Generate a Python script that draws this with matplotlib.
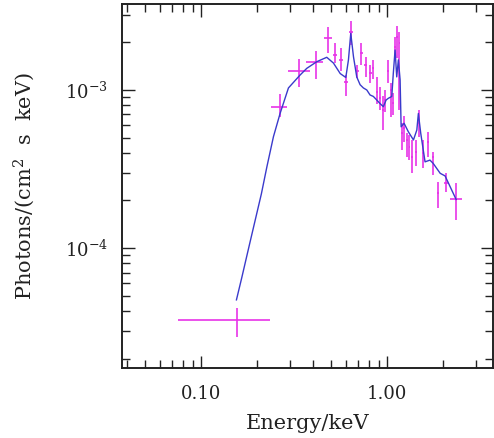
import numpy as np
import matplotlib
matplotlib.use("Agg")
import matplotlib.pyplot as plt
from matplotlib.ticker import FixedLocator, NullFormatter, FixedFormatter, LogLocator

plt.rcParams['mathtext.fontset'] = 'dejavuserif'

# Observed data points: energy (keV), flux, and error bounds
energy = [0.156, 0.266, 0.336, 0.414, 0.48, 0.525, 0.566, 0.60, 0.64, 0.692,
          0.727, 0.768, 0.81, 0.838, 0.88, 0.917, 0.948, 0.975, 1.016, 1.047,
          1.073, 1.104, 1.127, 1.165, 1.20, 1.234, 1.276, 1.318, 1.367, 1.43,
          1.486, 1.567, 1.667, 1.773, 1.873, 2.07, 2.35]
energy_lo = [0.075, 0.238, 0.294, 0.367, 0.46, 0.51, 0.55, 0.585, 0.625, 0.68,
             0.715, 0.755, 0.795, 0.826, 0.868, 0.905, 0.936, 0.963, 1.004, 1.035,
             1.061, 1.092, 1.115, 1.152, 1.187, 1.22, 1.262, 1.304, 1.352, 1.414,
             1.468, 1.548, 1.645, 1.75, 1.845, 2.02, 2.18]
energy_hi = [0.235, 0.29, 0.385, 0.453, 0.505, 0.54, 0.582, 0.615, 0.655, 0.705,
             0.74, 0.781, 0.825, 0.85, 0.892, 0.929, 0.96, 0.987, 1.028, 1.059,
             1.085, 1.116, 1.139, 1.178, 1.213, 1.248, 1.29, 1.332, 1.382, 1.446,
             1.504, 1.586, 1.69, 1.796, 1.9, 2.12, 2.52]
flux = [3.5e-5, 7.84e-4, 1.31e-3, 1.50e-3, 2.14e-3, 1.67e-3, 1.55e-3, 1.13e-3, 2.34e-3, 1.31e-3,
        1.71e-3, 1.44e-3, 1.28e-3, 1.37e-3, 9.75e-4, 8.9e-4, 7.47e-4, 8.64e-4, 1.31e-3, 1.0e-3,
        8.27e-4, 1.88e-3, 2.17e-3, 1.98e-3, 5.35e-4, 5.75e-4, 4.83e-4, 4.38e-4, 3.79e-4, 4.07e-4,
        6.16e-4, 4.0e-4, 4.7e-4, 3.79e-4, 2.24e-4, 2.59e-4, 2.03e-4]
flux_lo = [2.75e-5, 6.78e-4, 1.04e-3, 1.17e-3, 1.71e-3, 1.48e-3, 1.31e-3, 9.1e-4, 1.93e-3, 1.19e-3,
           1.44e-3, 1.21e-3, 1.10e-3, 1.18e-3, 8.2e-4, 7.47e-4, 5.58e-4, 7.3e-4, 1.10e-3, 6.78e-4,
           6.9e-4, 1.59e-3, 1.6e-3, 7.5e-4, 4.17e-4, 4.7e-4, 3.79e-4, 3.6e-4, 2.97e-4, 3.3e-4,
           5.06e-4, 3.2e-4, 3.79e-4, 2.9e-4, 1.78e-4, 2.27e-4, 1.5e-4]
flux_hi = [4.17e-5, 9.4e-4, 1.57e-3, 1.77e-3, 2.5e-3, 1.98e-3, 1.84e-3, 1.24e-3, 2.75e-3, 1.44e-3,
           1.99e-3, 1.62e-3, 1.44e-3, 1.55e-3, 1.21e-3, 1.05e-3, 9.1e-4, 1.0e-3, 1.55e-3, 1.1e-3,
           9.6e-4, 2.17e-3, 2.55e-3, 2.34e-3, 6.16e-4, 6.8e-4, 5.32e-4, 5.2e-4, 4.83e-4, 4.8e-4,
           7.47e-4, 4.8e-4, 5.45e-4, 4.07e-4, 2.63e-4, 2.97e-4, 2.59e-4]

# Model curve
model_e = [0.155, 0.1656, 0.175, 0.1834, 0.197, 0.211, 0.226, 0.245, 0.266, 0.295,
           0.34, 0.37, 0.419, 0.474, 0.515, 0.56, 0.60, 0.62, 0.638, 0.66,
           0.687, 0.716, 0.746, 0.778, 0.81, 0.844, 0.88, 0.917, 0.955, 0.988,
           1.016, 1.06, 1.08, 1.104, 1.127, 1.15, 1.175, 1.19, 1.234, 1.30,
           1.386, 1.445, 1.473, 1.517, 1.60, 1.70, 1.77, 1.93, 2.05, 2.35]
model_f = [4.7e-5, 6.5e-5, 8.6e-5, 1.09e-4, 1.56e-4, 2.2e-4, 3.27e-4, 5.06e-4, 7.1e-4, 1.03e-3,
           1.24e-3, 1.37e-3, 1.51e-3, 1.61e-3, 1.48e-3, 1.27e-3, 1.2e-3, 1.55e-3, 2.28e-3, 1.62e-3,
           1.21e-3, 1.08e-3, 1.03e-3, 1.0e-3, 9.3e-4, 9.1e-4, 8.64e-4, 8.2e-4, 7.84e-4, 8.64e-4,
           8.86e-4, 9.1e-4, 1.27e-3, 1.79e-3, 1.21e-3, 1.55e-3, 1.16e-3, 5.85e-4, 6.16e-4, 5.45e-4,
           4.83e-4, 5.58e-4, 7.1e-4, 5.32e-4, 3.51e-4, 3.6e-4, 3.43e-4, 2.97e-4, 2.86e-4, 2.03e-4]

x_major = [0.1, 1.0]
x_major_labels = ["0.10", "1.00"]
y_major = [1e-4, 1e-3]
y_major_labels = [r"$10^{-4}$", r"$10^{-3}$"]

W, H = 494, 438
fig = plt.figure(figsize=(W / 100, H / 100), dpi=100)
ax = fig.add_axes([122 / W, (H - 368) / H, (493 - 122) / W, (368 - 4) / H])

e = np.array(energy)
f = np.array(flux)
xerr = [e - np.array(energy_lo), np.array(energy_hi) - e]
yerr = [f - np.array(flux_lo), np.array(flux_hi) - f]
ax.errorbar(e, f, xerr=xerr, yerr=yerr, fmt='none', ecolor='#e833e8',
            elinewidth=1.2, capsize=0, zorder=2)
ax.plot(model_e, model_f, color='#3a3acc', lw=1.0, zorder=3)

ax.set_xscale('log')
ax.set_yscale('log')
ax.set_xlim(0.0376, 3.71)
ax.set_ylim(10 ** -4.759, 10 ** -2.456)

ax.xaxis.set_major_locator(FixedLocator(x_major))
ax.xaxis.set_major_formatter(FixedFormatter(x_major_labels))
ax.xaxis.set_minor_locator(LogLocator(base=10, subs=np.arange(2, 10)))
ax.xaxis.set_minor_formatter(NullFormatter())
ax.yaxis.set_major_locator(FixedLocator(y_major))
ax.yaxis.set_major_formatter(FixedFormatter(y_major_labels))
ax.yaxis.set_minor_locator(LogLocator(base=10, subs=np.arange(2, 10)))
ax.yaxis.set_minor_formatter(NullFormatter())

ax.tick_params(which='both', direction='in', top=True, right=True, width=1.0,
               color='#222222')
ax.tick_params(which='major', length=9)
ax.tick_params(which='minor', length=5.8)
ax.tick_params(axis='x', labelsize=13, pad=12, labelcolor='#222222')
ax.tick_params(axis='y', labelsize=13, pad=10, labelcolor='#222222')
for lab in ax.get_xticklabels() + ax.get_yticklabels():
    lab.set_family('DejaVu Serif')
for s in ax.spines.values():
    s.set_linewidth(1.4)
    s.set_color('#222222')

ax.set_xlabel("Energy/keV", fontsize=15, family='DejaVu Serif', color='#222222',
              labelpad=8)
ax.set_ylabel(r"Photons/(cm$^2$  s  keV)", fontsize=15, family='DejaVu Serif',
              color='#222222', labelpad=20)

fig.savefig("out.png", dpi=100)
